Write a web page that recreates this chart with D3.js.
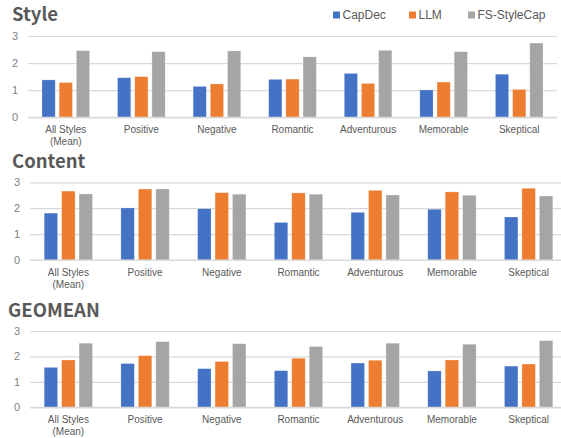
<html lang="en">
<head>
<meta charset="UTF-8">
<title>Style / Content / GEOMEAN</title>
<script src="https://d3js.org/d3.v7.min.js"></script>
<style>
  body { margin: 0; background: #fff; }
  text { font-family: "Liberation Sans", Arial, sans-serif; }
  .title { font-family: "Noto Sans CJK SC", "Noto Sans", sans-serif; font-weight: bold; font-size: 18.5px; fill: #595959; }
  .ytick text { font-size: 11px; fill: #808080; }
  .xlab { font-size: 10px; fill: #595959; }
  .legend text { font-size: 12px; fill: #595959; }
</style>
</head>
<body>
<div id="chart"></div>
<script>
var width = 561, height = 438;

var categories = ["All Styles\n(Mean)", "Positive", "Negative", "Romantic", "Adventurous", "Memorable", "Skeptical"];
var seriesNames = ["CapDec", "LLM", "FS-StyleCap"];
var colors = ["#4472C4", "#ED7D31", "#A5A5A5"];
var yTicks = [0, 1, 2, 3];

// Style
var styleCapDec = [1.38, 1.46, 1.14, 1.40, 1.62, 1.01, 1.59];
var styleLLM = [1.28, 1.50, 1.23, 1.41, 1.25, 1.30, 1.03];
var styleFS = [2.46, 2.42, 2.45, 2.23, 2.47, 2.42, 2.74];

// Content
var contentCapDec = [1.81, 2.01, 1.98, 1.45, 1.84, 1.96, 1.66];
var contentLLM = [2.66, 2.74, 2.60, 2.59, 2.69, 2.63, 2.77];
var contentFS = [2.55, 2.74, 2.54, 2.54, 2.51, 2.50, 2.47];

// GEOMEAN
var geoCapDec = [1.57, 1.72, 1.52, 1.44, 1.74, 1.43, 1.62];
var geoLLM = [1.86, 2.03, 1.80, 1.93, 1.85, 1.86, 1.70];
var geoFS = [2.52, 2.58, 2.50, 2.39, 2.52, 2.48, 2.62];

var panels = [
  { title: "Style", tx: 12, ty: 21, x: [28, 557], y: [117.3, 36], series: [styleCapDec, styleLLM, styleFS] },
  { title: "Content", tx: 12, ty: 167.5, x: [30, 567], y: [260, 182.3], series: [contentCapDec, contentLLM, contentFS] },
  { title: "GEOMEAN", tx: 8, ty: 317, x: [30, 567], y: [407.3, 331], series: [geoCapDec, geoLLM, geoFS] }
];

var svg = d3.select("#chart").append("svg")
  .attr("width", width)
  .attr("height", height);

function drawPanel(p) {
  var g = svg.append("g");

  var x0 = d3.scaleBand().domain(categories).range(p.x).paddingInner(0.37).paddingOuter(0.185);
  var x1 = d3.scaleBand().domain(seriesNames).range([0, x0.bandwidth()]).paddingInner(0.23);
  var y = d3.scaleLinear().domain([0, 3]).range(p.y);

  g.append("text").attr("class", "title").attr("x", p.tx).attr("y", p.ty).text(p.title);

  // gridlines + y labels
  var yAxis = g.append("g")
    .attr("class", "ytick")
    .attr("transform", "translate(" + p.x[0] + ",0)")
    .call(d3.axisLeft(y).tickValues(yTicks).tickSize(-(p.x[1] - p.x[0])).tickPadding(10).tickFormat(d3.format("d")));
  yAxis.select(".domain").remove();
  yAxis.selectAll("line").attr("stroke", "#d9d9d9").attr("stroke-width", 1.2);

  // bars
  seriesNames.forEach(function(s, si) {
    g.selectAll(".bar" + si)
      .data(p.series[si])
      .enter().append("rect")
      .attr("x", function(d, i) { return x0(categories[i]) + x1(s); })
      .attr("y", function(d) { return y(d); })
      .attr("width", x1.bandwidth())
      .attr("height", function(d) { return y(0) - y(d); })
      .attr("fill", colors[si])
      .attr("stroke", "#fff")
      .attr("stroke-opacity", 0.4)
      .attr("stroke-width", 0.6);
  });

  // baseline
  g.append("line")
    .attr("x1", p.x[0]).attr("x2", p.x[1])
    .attr("y1", y(0)).attr("y2", y(0))
    .attr("stroke", "#d9d9d9").attr("stroke-width", 1.2);

  // category labels
  var labs = g.selectAll(".xlab")
    .data(categories)
    .enter().append("text")
    .attr("class", "xlab")
    .attr("text-anchor", "middle")
    .attr("transform", function(d) { return "translate(" + (x0(d) + x0.bandwidth() / 2) + "," + (y(0) + 16) + ")"; });
  labs.each(function(d) {
    var t = d3.select(this);
    d.split("\n").forEach(function(line, li) {
      t.append("tspan").attr("x", 0).attr("y", li * 12).text(line);
    });
  });
}

panels.forEach(drawPanel);

// legend
var legendX = [333, 409, 468];
var legend = svg.append("g").attr("class", "legend");
seriesNames.forEach(function(s, i) {
  legend.append("rect")
    .attr("x", legendX[i]).attr("y", 11.5)
    .attr("width", 7).attr("height", 7)
    .attr("fill", colors[i]);
  legend.append("text")
    .attr("x", legendX[i] + 9.5).attr("y", 19.3)
    .text(s);
});
</script>
</body>
</html>
